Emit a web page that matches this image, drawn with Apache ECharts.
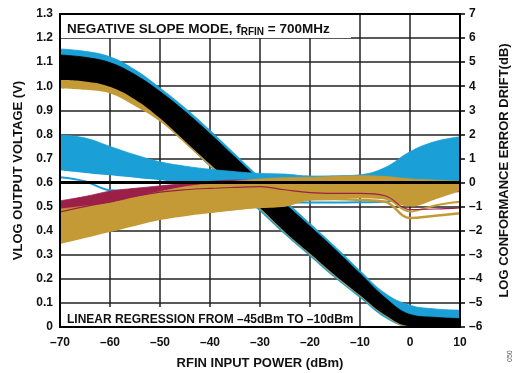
<!DOCTYPE html>
<html>
<head>
<meta charset="utf-8">
<title>VLOG output voltage and log conformance error drift</title>
<script src="https://cdn.jsdelivr.net/npm/echarts@6/dist/echarts.min.js"></script>
<style>
  html, body { margin: 0; padding: 0; background: #fff; }
  #chart { width: 516px; height: 373px; }
</style>
</head>
<body>
<div id="chart"></div>
<script>
// RFIN sample points (dBm)
var rfin = [-70, -65, -60, -55, -50, -45, -40, -35, -30, -25, -20, -15, -10, -5, 0, 5, 10];

// VLOG output voltage bands (V), left axis
var vBlueHi = [1.155, 1.145, 1.122, 1.068, 0.993, 0.91, 0.817, 0.718, 0.62, 0.525, 0.43, 0.334, 0.234, 0.14, 0.09, 0.075, 0.07];
var vBlueLo = [1.01, 1.0, 0.98, 0.93, 0.86, 0.765, 0.665, 0.572, 0.48, 0.383, 0.293, 0.203, 0.12, 0.038, 0, 0, 0];
var vGoldHi = [1.12, 1.11, 1.088, 1.038, 0.968, 0.885, 0.793, 0.695, 0.597, 0.502, 0.406, 0.31, 0.21, 0.11, 0.045, 0.035, 0.03];
var vGoldLo = [0.991, 0.985, 0.97, 0.918, 0.853, 0.762, 0.668, 0.578, 0.488, 0.39, 0.3, 0.21, 0.128, 0.046, 0, 0, 0];
var vBlackHi = [1.13, 1.12, 1.098, 1.048, 0.978, 0.895, 0.803, 0.705, 0.607, 0.512, 0.418, 0.322, 0.222, 0.122, 0.052, 0.04, 0.035];
var vBlackLo = [1.026, 1.02, 0.998, 0.945, 0.867, 0.772, 0.677, 0.585, 0.494, 0.395, 0.305, 0.215, 0.132, 0.05, 0.003, 0, 0];

// log conformance error drift bands (dB), right axis
var eBlueHi = [1.97, 1.85, 1.5, 1.15, 0.86, 0.68, 0.55, 0.45, 0.38, 0.35, 0.27, 0.28, 0.32, 0.62, 1.28, 1.7, 1.9];
var eBlueLo = [0.5, 0.4, 0.3, 0.2, 0.1, 0.0, -0.1, -0.2, -0.3, -0.3, -0.3, -0.3, -0.3, -0.3, -0.3, 0.05, 0.05];
var eBlueLine = [0.22, 0.05, -0.32, -0.35, -0.2, -0.1, -0.2, -0.45, -0.7, -0.82, -0.83, -0.83, -0.82, -0.8, -0.6, -0.1, 0.1];
var eRedHi = [-0.76, -0.58, -0.36, -0.24, -0.14, -0.04, 0.05, 0.1, 0.1, 0.1, 0.1, 0.1, 0.1, 0.1, 0.0, 0.0, 0.0];
var eRedLo = [-1.3, -1.1, -0.9, -0.7, -0.5, -0.4, -0.4, -0.4, -0.4, -0.4, -0.4, -0.4, -0.4, -0.4, -0.4, -0.4, -0.4];
var eGoldHi = [-1.1, -0.98, -0.85, -0.6, -0.38, -0.18, -0.05, 0.05, 0.15, 0.2, 0.22, 0.25, 0.28, 0.25, 0.15, 0.1, 0.05];
var eGoldLo = [-2.55, -2.3, -2.05, -1.8, -1.56, -1.4, -1.27, -1.15, -1.06, -0.97, -0.7, -0.65, -0.65, -0.7, -1.0, -0.7, -0.35];
var eGoldLine1 = [-2.4, -2.2, -1.95, -1.7, -1.45, -1.3, -1.2, -1.1, -1.0, -0.95, -0.7, -0.68, -0.72, -0.8, -1.47, -1.38, -1.28];
var eGoldLine2 = [-2.0, -1.8, -1.6, -1.4, -1.2, -1.0, -0.9, -0.8, -0.7, -0.6, -0.55, -0.55, -0.6, -0.65, -1.2, -0.95, -0.8];
var eRedLine = [-1.22, -1.0, -0.8, -0.58, -0.4, -0.3, -0.24, -0.2, -0.17, -0.3, -0.42, -0.45, -0.45, -0.55, -1.12, -1.1, -1.05];

// axis ticks
var vTicks = { min: 0, max: 1.3, step: 0.1 };
var eTicks = { min: -6, max: 7, step: 1 };

var BLUE = "#1a9fd6";
var GOLD = "#c39a36";
var RED = "#9c1f48";
var BLACK = "#000000";
var FONT = "Liberation Sans";

// band = invisible lower line + stacked (hi - lo) area on top of it
function band(id, lo, hi, color, axis) {
  return [
    {
      name: id + "-base", type: "line", yAxisIndex: axis, stack: id, stackStrategy: "all",
      smooth: 0.4, symbol: "none", silent: true,
      lineStyle: { width: 0, opacity: 0 },
      data: lo
    },
    {
      name: id, type: "line", yAxisIndex: axis, stack: id, stackStrategy: "all",
      smooth: 0.4, symbol: "none", silent: true,
      lineStyle: { width: 0.8, color: color },
      areaStyle: { color: color, opacity: 1 },
      data: hi.map(function (v, i) { return +(v - lo[i]).toFixed(4); })
    }
  ];
}

function curve(id, vals, color, width, axis) {
  return {
    name: id, type: "line", yAxisIndex: axis, smooth: 0.4, symbol: "none", silent: true,
    lineStyle: { color: color, width: width },
    data: vals
  };
}

function dash(v) {
  v = Number(v);
  return v < 0 ? "\u2013" + Math.abs(v) : String(v);
}

var series = [].concat(
  band("vBlue", vBlueLo, vBlueHi, BLUE, 0),
  band("vGold", vGoldLo, vGoldHi, GOLD, 0),
  band("vBlack", vBlackLo, vBlackHi, BLACK, 0),
  band("eBlue", eBlueLo, eBlueHi, BLUE, 1),
  [curve("eBlueLine", eBlueLine, BLUE, 2, 1)],
  band("eRed", eRedLo, eRedHi, RED, 1),
  band("eGold", eGoldLo, eGoldHi, GOLD, 1),
  [curve("eGoldLine1", eGoldLine1, GOLD, 2.5, 1)],
  [curve("eGoldLine2", eGoldLine2, GOLD, 2, 1)],
  [curve("eRedLine", eRedLine, RED, 1.2, 1)]
);

// area and stroke of one series share a z, so later series really paint over earlier ones
series.forEach(function (s, i) { s.z = 3 + i; });

// 0 dB reference line
series[series.length - 1].markLine = {
  silent: true,
  z: 40,
  symbol: "none",
  label: { show: false },
  lineStyle: { color: BLACK, width: 3, type: "solid" },
  data: [{ yAxis: 0 }]
};

var axisText = { color: "#111", fontFamily: FONT, fontWeight: "bold", fontSize: 12 };
var nameText = { color: "#111", fontFamily: FONT, fontWeight: "bold", fontSize: 13 };

var option = {
  animation: false,
  grid: { left: 60, right: 56, top: 14, bottom: 46, outerBoundsMode: "none" },
  xAxis: {
    type: "category",
    data: rfin,
    boundaryGap: false,
    name: "RFIN INPUT POWER (dBm)",
    nameLocation: "middle",
    nameGap: 30,
    nameTextStyle: nameText,
    axisLine: { show: false },
    axisTick: { show: false },
    axisLabel: Object.assign({ margin: 10, interval: 1, formatter: dash }, axisText),
    splitLine: { show: true, interval: 1, lineStyle: { color: "#222", width: 1.5 } }
  },
  yAxis: [
    {
      type: "value",
      min: vTicks.min, max: vTicks.max, interval: vTicks.step,
      name: "VLOG OUTPUT VOLTAGE (V)",
      nameLocation: "middle",
      nameRotate: 90,
      nameGap: 35,
      nameTextStyle: nameText,
      axisLine: { show: false },
      axisTick: { show: false },
      axisLabel: Object.assign({
        margin: 7,
        formatter: function (v) { return v === 0 ? "0" : v.toFixed(1); }
      }, axisText),
      splitLine: { show: true, lineStyle: { color: "#222", width: 1.5 } }
    },
    {
      type: "value",
      position: "right",
      min: eTicks.min, max: eTicks.max, interval: eTicks.step,
      name: "LOG CONFORMANCE ERROR DRIFT(dB)",
      nameLocation: "middle",
      nameRotate: 90,
      nameGap: 38,
      nameTextStyle: nameText,
      axisLine: { show: true, lineStyle: { color: BLACK, width: 2 } },
      axisTick: { show: true, inside: false, length: 5, lineStyle: { color: BLACK, width: 1.5 } },
      axisLabel: Object.assign({ margin: 9, formatter: dash }, axisText),
      splitLine: { show: false }
    }
  ],
  graphic: [
    { type: "rect", z: 50, shape: { x: 61, y: 15, width: 290, height: 23 }, style: { fill: "#fff" } },
    {
      type: "text", z: 51, x: 67, y: 21,
      style: {
        text: "{m|NEGATIVE SLOPE MODE, f}{s|RFIN}{m| = 700MHz}",
        rich: {
          m: { fontFamily: FONT, fontWeight: "bold", fontSize: 13.5, fill: "#111", lineHeight: 16 },
          s: { fontFamily: FONT, fontWeight: "bold", fontSize: 10, fill: "#111", lineHeight: 16, padding: [7, 0, 0, 0] }
        }
      }
    },
    { type: "rect", z: 50, shape: { x: 61, y: 307, width: 297, height: 19 }, style: { fill: "#fff" } },
    {
      type: "text", z: 51, x: 67, y: 314,
      style: { text: "LINEAR REGRESSION FROM \u201345dBm TO \u201310dBm", fontFamily: FONT, fontWeight: "bold", fontSize: 12, fill: "#111" }
    },
    // plot frame on top of the bands
    { type: "rect", z: 60, shape: { x: 60, y: 14, width: 400, height: 313 }, style: { fill: "none", stroke: BLACK, lineWidth: 2 } },
    {
      type: "text", z: 51, x: 507, y: 362, rotation: Math.PI / 2,
      style: { text: "050", fontFamily: FONT, fontSize: 7, fill: "#555" }
    }
  ],
  series: series
};

var chart = echarts.init(document.getElementById("chart"));
chart.setOption(option);
</script>
</body>
</html>
